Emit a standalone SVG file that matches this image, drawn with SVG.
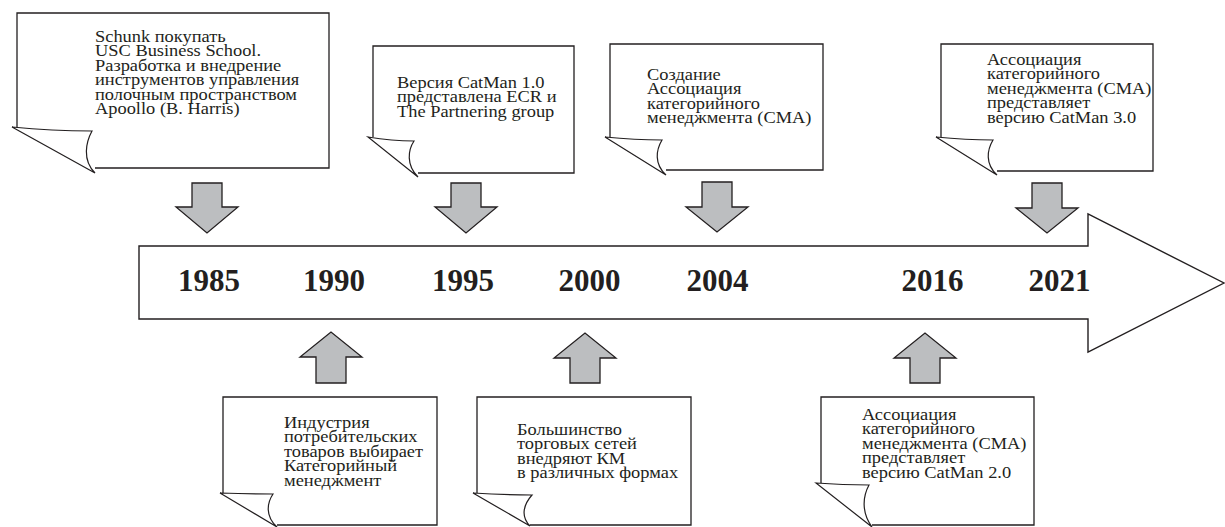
<svg xmlns="http://www.w3.org/2000/svg" width="1225" height="527" viewBox="0 0 1225 527">
<style>
.box{fill:#fff;stroke:#231f20;stroke-width:1.3;stroke-linejoin:miter}
.flap{fill:#fff;stroke:#231f20;stroke-width:1.2;stroke-linejoin:miter}
.blk{fill:#bcbec0;stroke:#231f20;stroke-width:1.3;stroke-linejoin:miter}
.tl{fill:#fff;stroke:#231f20;stroke-width:1.4;stroke-linejoin:miter}
.t{font-family:"Liberation Serif","Times New Roman",serif;font-size:16px;fill:#231f20}
.y{font-family:"Liberation Serif","Times New Roman",serif;font-size:31px;font-weight:bold;fill:#231f20;text-anchor:middle}
</style>
<rect width="1225" height="527" fill="#fff"/>

<g id="timeline">
<path class="tl" d="M139,246 H1088 V214 L1224,283 L1088,352 V319 H139 Z"/>
<text class="y" x="209" y="291">1985</text>
<text class="y" x="334" y="291">1990</text>
<text class="y" x="463" y="291">1995</text>
<text class="y" x="589.5" y="291">2000</text>
<text class="y" x="717.5" y="291">2004</text>
<text class="y" x="932.5" y="291">2016</text>
<text class="y" x="1059.5" y="291">2021</text>
</g>

<g id="connectors">
<path class="blk" d="M192,183 H222 V207 H238 L207,233 L176,207 H192 Z"/>
<path class="blk" d="M451,183 H481 V207 H497 L466,233 L435,207 H451 Z"/>
<path class="blk" d="M702,182 H732 V207 H748 L717,232 L686,207 H702 Z"/>
<path class="blk" d="M1032,183 H1062 V208 H1078 L1047,233 L1016,208 H1032 Z"/>
<path class="blk" d="M316,383 H346 V357 H362 L331,332 L300,357 H316 Z"/>
<path class="blk" d="M570,383 H600 V358 H616 L585,333 L554,358 H570 Z"/>
<path class="blk" d="M910,383 H940 V358 H956 L925,333 L894,358 H910 Z"/>
</g>

<g id="node-1985">
<path class="box" d="M95,168 H329 V13 H17 V128"/>
<path class="flap" d="M12,127 Q52,131 92,131 C86,142 82,160 95,173 Z"/>
<text class="t" transform="translate(95,42) scale(1.15,1)"><tspan x="0" y="0">Schunk покупать</tspan><tspan x="0" y="14.5">USC Business School.</tspan><tspan x="0" y="29">Разработка и внедрение</tspan><tspan x="0" y="43.5">инструментов управления</tspan><tspan x="0" y="58">полочным пространством</tspan><tspan x="0" y="72.5">Apoollo (B. Harris)</tspan></text>
</g>

<g id="node-1995">
<path class="box" d="M418,173 H574 V46 H373 V137"/>
<path class="flap" d="M368,137 Q392,141 414,141 C408,150 406,165 418,177 Z"/>
<text class="t" transform="translate(397,88) scale(1.15,1)"><tspan x="0" y="0">Версия CatMan 1.0</tspan><tspan x="0" y="14.5">представлена ECR и</tspan><tspan x="0" y="29">The Partnering group</tspan></text>
</g>

<g id="node-2004">
<path class="box" d="M666,170 H823 V44 H610 V137"/>
<path class="flap" d="M605,137 Q635,140 662,140 C656,150 654,164 666,175 Z"/>
<text class="t" transform="translate(647,80) scale(1.15,1)"><tspan x="0" y="0">Создание</tspan><tspan x="0" y="14.5">Ассоциация</tspan><tspan x="0" y="29">категорийного</tspan><tspan x="0" y="43.5">менеджмента (CMA)</tspan></text>
</g>

<g id="node-2021">
<path class="box" d="M997,171 H1153 V44 H941 V137"/>
<path class="flap" d="M936,137 Q966,140 993,140 C987,150 985,164 997,175 Z"/>
<text class="t" transform="translate(987,65) scale(1.15,1)"><tspan x="0" y="0">Ассоциация</tspan><tspan x="0" y="14.5">категорийного</tspan><tspan x="0" y="29">менеджмента (CMA)</tspan><tspan x="0" y="43.5">представляет</tspan><tspan x="0" y="58">версию CatMan 3.0</tspan></text>
</g>

<g id="node-1990">
<path class="box" d="M277,525 H437 V397 H223 V493"/>
<path class="flap" d="M220,493 Q247,494 273,494 C267,503 265,516 277,527 Z"/>
<text class="t" transform="translate(284,428) scale(1.15,1)"><tspan x="0" y="0">Индустрия</tspan><tspan x="0" y="14.5">потребительских</tspan><tspan x="0" y="29">товаров выбирает</tspan><tspan x="0" y="43.5">Категорийный</tspan><tspan x="0" y="58">менеджмент</tspan></text>
</g>

<g id="node-2000">
<path class="box" d="M530,525 H691 V397 H477 V493"/>
<path class="flap" d="M473,493 Q503,495 532,495 C524,504 520,516 530,526 Z"/>
<text class="t" transform="translate(517,435) scale(1.15,1)"><tspan x="0" y="0">Большинство</tspan><tspan x="0" y="14.5">торговых сетей</tspan><tspan x="0" y="29">внедряют КМ</tspan><tspan x="0" y="43.5">в различных формах</tspan></text>
</g>

<g id="node-2016">
<path class="box" d="M872,525 H1034 V397 H821 V483"/>
<path class="flap" d="M816,483 Q843,485 869,485 C863,496 861,512 872,527 Z"/>
<text class="t" transform="translate(862,420) scale(1.15,1)"><tspan x="0" y="0">Ассоциация</tspan><tspan x="0" y="14.5">категорийного</tspan><tspan x="0" y="29">менеджмента (CMA)</tspan><tspan x="0" y="43.5">представляет</tspan><tspan x="0" y="58">версию CatMan 2.0</tspan></text>
</g>
</svg>
